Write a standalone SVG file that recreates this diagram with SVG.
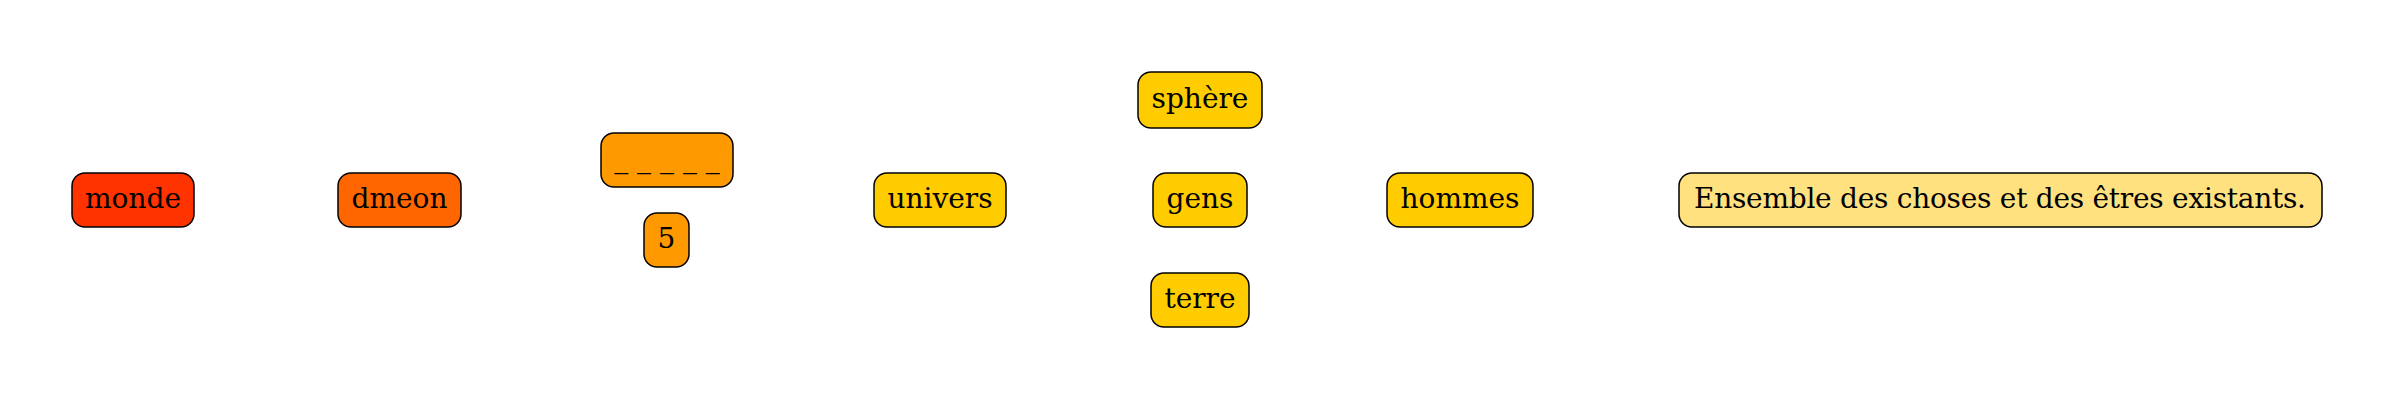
<svg xmlns="http://www.w3.org/2000/svg" width="2400" height="400" viewBox="0 0 2400 400">
<style>
.n rect{stroke:#000;stroke-width:1.5;rx:13;ry:13}
.n text{font-family:"DejaVu Serif","Liberation Serif",serif;font-size:28px;text-anchor:middle;fill:#000}
</style>
<rect width="2400" height="400" fill="#fff"/>
<g id="connectors"></g>
<g id="monde" class="n"><rect x="72" y="173" width="122" height="54" fill="#ff3300"/><text x="133" y="208">monde</text></g>
<g id="dmeon" class="n"><rect x="338" y="173" width="123" height="54" fill="#ff6600"/><text x="399.5" y="208">dmeon</text></g>
<g id="blank" class="n"><rect x="601" y="133" width="132" height="54" fill="#ff9900"/><text x="667" y="168">_ _ _ _ _</text></g>
<g id="five" class="n"><rect x="644" y="213" width="45" height="54" fill="#ff9900"/><text x="666.5" y="248">5</text></g>
<g id="univers" class="n"><rect x="874" y="173" width="132" height="54" fill="#ffcc00"/><text x="940" y="208">univers</text></g>
<g id="sphere" class="n"><rect x="1138" y="72" width="124" height="56" fill="#ffcc00"/><text x="1200" y="108">sphère</text></g>
<g id="gens" class="n"><rect x="1153" y="173" width="94" height="54" fill="#ffcc00"/><text x="1200" y="208">gens</text></g>
<g id="terre" class="n"><rect x="1151" y="273" width="98" height="54" fill="#ffcc00"/><text x="1200" y="308">terre</text></g>
<g id="hommes" class="n"><rect x="1387" y="173" width="146" height="54" fill="#ffcc00"/><text x="1460" y="208">hommes</text></g>
<g id="definition" class="n"><rect x="1679" y="173" width="643" height="54" fill="#ffe180"/><text x="2000" y="208" textLength="612" lengthAdjust="spacing">Ensemble des choses et des êtres existants.</text></g>
</svg>
